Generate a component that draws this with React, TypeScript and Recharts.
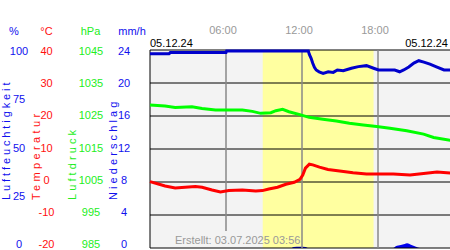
import React from 'react';
import {
  ComposedChart,
  Line,
  Area,
  XAxis,
  YAxis,
  CartesianGrid,
  ReferenceArea,
  ReferenceLine,
} from 'recharts';

// hours of the day (0..24) for each series
const humidityHours = [0, 1.5, 1.6, 6.0, 6.05, 12.5, 12.58, 12.72, 12.85, 12.98, 13.12, 13.35, 13.67, 14.07, 14.47, 14.79, 15.26, 15.9, 16.45, 17.09, 17.65, 18.04, 19.32, 19.71, 20.03, 20.43, 20.83, 21.22, 21.62, 22.1, 22.66, 23.21, 23.9];
const humidity = [98.1, 98.1, 98.7, 98.7, 99.5, 99.5, 97.8, 95.8, 93.3, 91.3, 89.9, 89.0, 88.2, 89.0, 88.7, 89.9, 89.5, 90.8, 91.6, 92.1, 90.8, 89.9, 89.9, 89.0, 89.9, 91.4, 93.4, 94.6, 93.9, 92.9, 91.4, 89.9, 89.9];

const pressureHours = [0, 1.19, 1.99, 3.31, 4.11, 5.17, 7.29, 8.08, 8.74, 9.54, 9.94, 10.47, 10.97, 11.76, 12.56, 13.65, 14.71, 15.74, 16.83, 17.89, 18.94, 20.27, 21.6, 22.39, 23.9];
const pressure = [1028.3, 1028.0, 1027.6, 1027.8, 1027.3, 1026.8, 1026.8, 1026.4, 1025.8, 1026.0, 1026.6, 1027.0, 1026.3, 1025.5, 1024.6, 1024.0, 1023.5, 1022.8, 1022.3, 1021.8, 1021.3, 1020.5, 1019.5, 1018.5, 1017.5];

const temperatureHours = [0, 0.66, 1.19, 1.99, 2.78, 3.58, 4.11, 4.9, 5.56, 6.22, 7.29, 8.35, 8.88, 9.38, 10.07, 10.73, 11.39, 11.84, 12.06, 12.27, 12.58, 12.85, 13.38, 14.05, 14.97, 16.03, 17.09, 19.21, 20.53, 21.6, 22.66, 23.9];
const temperature = [0.1, -0.6, -1.2, -1.8, -1.6, -1.4, -1.6, -2.4, -3.0, -2.6, -2.4, -2.7, -2.6, -2.1, -1.6, -0.7, -0.1, 0.8, 2.1, 4.2, 5.4, 5.2, 4.5, 3.8, 3.3, 2.8, 2.4, 2.4, 2.1, 2.6, 3.0, 2.7];

const rainHours = [11.2, 11.35, 11.8, 12.3, 12.45, 19.2, 19.4, 19.8, 20.1, 20.3, 20.6, 21.0, 21.3];
const rain = [0, 0.12, 0.15, 0.12, 0, 0, 0.2, 0.35, 0.5, 0.57, 0.4, 0.15, 0];

const timeTicks = [0, 6, 12, 18, 24];
const timeLabels = ['05.12.24', '06:00', '12:00', '18:00', '05.12.24'];
const humidityTicks = [0, 25, 50, 75, 100];
const temperatureTicks = [-20, -10, 0, 10, 20, 30, 40];
const pressureTicks = [985, 995, 1005, 1015, 1025, 1035, 1045];
const rainTicks = [0, 4, 8, 12, 16, 20, 24];
const daylight = [8.9, 17.65];
const createdText = 'Erstellt: 03.07.2025 03:56';

const font = 'Arial, "Liberation Sans", sans-serif';

// axis ids sort in the order the axes stand from the plot outwards
const RAIN = 'y1rain';
const PRESS = 'y2press';
const TEMP = 'y3temp';
const HUM = 'y4hum';

const toPoints = (hours: number[], values: number[]) =>
  hours.map((h, i) => ({ h, v: values[i] }));

// tick labels sit a bit tighter than the grid in the original
const squeeze = (y: number) => y * 0.978 + 1.8;

const makeTick = (color: string) => (props: any) => {
  const { x, y, payload } = props;
  return (
    <text x={x} y={squeeze(y)} dy={4} textAnchor="middle" fill={color} fontSize={11} fontFamily={font}>
      {payload.value}
    </text>
  );
};

const makeLabel = (
  title: string,
  unit: string,
  color: string,
  titleDx: number,
  unitDx: number,
  spacing: number,
) => (props: any) => {
  const vb = props.viewBox || {};
  const lx = vb.x + titleDx;
  return (
    <g>
      <text x={vb.x + unitDx} y={35} textAnchor="middle" fill={color} fontSize={11} fontFamily={font}>
        {unit}
      </text>
      <text
        x={lx}
        y={200}
        transform={`rotate(-90 ${lx} 200)`}
        textAnchor="start"
        dominantBaseline="central"
        fill={color}
        fontSize={11}
        letterSpacing={spacing}
        fontFamily={font}
      >
        {title}
      </text>
    </g>
  );
};

const TimeTick = (props: any) => {
  const { x, y, payload } = props;
  const label = timeLabels[timeTicks.indexOf(payload.value)];
  if (payload.value === 0) {
    return (
      <text x={x} y={y - 3} textAnchor="start" fill="#000" fontSize={11} fontFamily={font}>
        {label}
      </text>
    );
  }
  if (payload.value === 24) {
    return (
      <text x={x - 6} y={y - 3} textAnchor="end" fill="#000" fontSize={11} fontFamily={font}>
        {label}
      </text>
    );
  }
  return (
    <text x={x - 3} y={y - 16} textAnchor="middle" fill="#999" fontSize={11} fontFamily={font}>
      {label}
    </text>
  );
};

export default function App() {
  return (
    <div style={{ position: 'absolute', left: 0, top: 0, width: 450, height: 250, overflow: 'hidden', background: '#fff' }}>
      <ComposedChart width={454} height={250} margin={{ top: 0, right: 0, bottom: 2, left: 0 }}>
        <CartesianGrid fill="#f3f3f3" horizontal={false} vertical={false} yAxisId={RAIN} />
        <XAxis
          xAxisId="t"
          type="number"
          dataKey="h"
          domain={[0, 24]}
          ticks={timeTicks}
          orientation="top"
          height={50}
          axisLine={false}
          tickLine={false}
          tickSize={0}
          tickMargin={0}
          interval={0}
          tick={<TimeTick />}
        />
        <YAxis
          yAxisId={RAIN}
          dataKey="v"
          domain={[0, 24]}
          ticks={rainTicks}
          interval={0}
          width={45}
          axisLine={false}
          tickLine={false}
          tickSize={0}
          tickMargin={26}
          tick={makeTick('#1010ee')}
          label={{ content: makeLabel('Niederschlag', 'mm/h', '#1010ee', 8, 27, 3.1) }}
        />
        <YAxis
          yAxisId={PRESS}
          domain={[985, 1045]}
          ticks={pressureTicks}
          interval={0}
          width={40}
          axisLine={false}
          tickLine={false}
          tickSize={0}
          tickMargin={14}
          tick={makeTick('#22ee22')}
          label={{ content: makeLabel('Luftdruck', 'hPa', '#22ee22', 7, 25.5, 3.1) }}
        />
        <YAxis
          yAxisId={TEMP}
          domain={[-20, 40]}
          ticks={temperatureTicks}
          interval={0}
          width={35}
          axisLine={false}
          tickLine={false}
          tickSize={0}
          tickMargin={18.5}
          tick={makeTick('#ff1010')}
          label={{ content: makeLabel('Temperatur', '°C', '#ff1010', 6, 16.5, 3.4) }}
        />
        <YAxis
          yAxisId={HUM}
          domain={[0, 100]}
          ticks={humidityTicks}
          interval={0}
          width={30}
          axisLine={false}
          tickLine={false}
          tickSize={0}
          tickMargin={11}
          tick={makeTick('#1010ee')}
          label={{ content: makeLabel('Luftfeuchtigkeit', '%', '#1010ee', 6, 14, 2.9) }}
        />
        <ReferenceArea xAxisId="t" yAxisId={RAIN} x1={daylight[0]} x2={daylight[1]} y1={0} y2={24} fill="#ffffa0" fillOpacity={1} stroke="none" />
        {rainTicks.map((v) => (
          <ReferenceLine key={`g${v}`} xAxisId="t" yAxisId={RAIN} y={v} stroke="#000" strokeWidth={1} />
        ))}
        <ReferenceLine xAxisId="t" yAxisId={HUM} segment={[{ x: 6, y: 8.6 }, { x: 6, y: 100 }]} stroke="#888" strokeWidth={1.5} />
        <ReferenceLine xAxisId="t" yAxisId={HUM} x={12} stroke="#888" strokeWidth={1.5} />
        <ReferenceLine xAxisId="t" yAxisId={HUM} x={18} stroke="#888" strokeWidth={1.5} />
        <ReferenceLine xAxisId="t" yAxisId={HUM} x={0} stroke="#000" strokeWidth={1} />
        <Area
          xAxisId="t"
          yAxisId={RAIN}
          data={toPoints(rainHours, rain)}
          dataKey="v"
          type="monotone"
          stroke="none"
          fill="#0000ee"
          fillOpacity={1}
          isAnimationActive={false}
        />
        <Line
          xAxisId="t"
          yAxisId={PRESS}
          data={toPoints(pressureHours, pressure)}
          dataKey="v"
          stroke="#00ff00"
          strokeWidth={3}
          dot={false}
          isAnimationActive={false}
        />
        <Line
          xAxisId="t"
          yAxisId={TEMP}
          data={toPoints(temperatureHours, temperature)}
          dataKey="v"
          stroke="#ff0000"
          strokeWidth={3}
          dot={false}
          isAnimationActive={false}
        />
        <Line
          xAxisId="t"
          yAxisId={HUM}
          data={toPoints(humidityHours, humidity)}
          dataKey="v"
          stroke="#0000cc"
          strokeWidth={3}
          dot={false}
          isAnimationActive={false}
        />
      </ComposedChart>
      <div
        style={{
          position: 'absolute',
          left: 175,
          top: 232,
          fontFamily: font,
          fontSize: 11,
          color: '#999',
          lineHeight: '16px',
          whiteSpace: 'nowrap',
        }}
      >
        {createdText}
      </div>
    </div>
  );
}
